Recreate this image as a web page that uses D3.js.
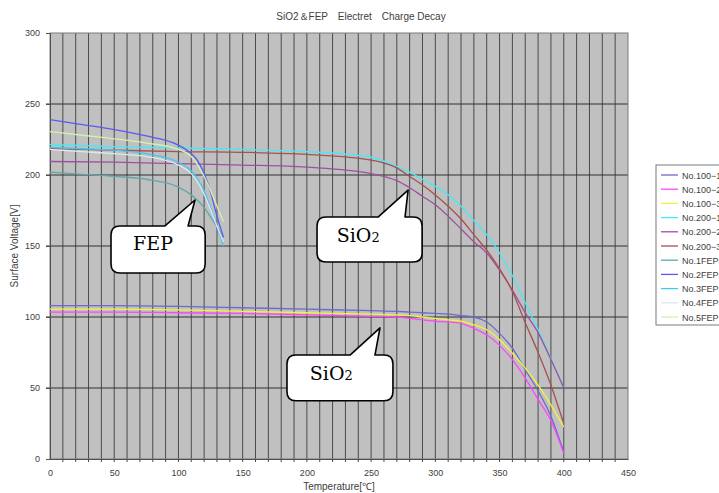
<!DOCTYPE html>
<html>
<head>
<meta charset="utf-8">
<style>
    body { margin: 0; background: #ffffff; }
    text { font-family: "Liberation Sans", Arial, sans-serif; fill: #404040; }
</style>
</head>
<body>
<script src="https://cdnjs.cloudflare.com/ajax/libs/d3/7.8.5/d3.min.js"></script>
<script type="text/javascript">
    // SiO2 samples: temperature points [°C]
    var sio2Temps = [0, 50, 100, 150, 200, 250, 270, 280, 290, 300, 310, 320, 330, 340, 350, 360, 370, 380, 390, 400];
    var no100_1 = [108, 108, 107.5, 106.5, 105.5, 104.5, 104, 103.5, 103, 102.5, 102, 101, 100, 96.5, 88.5, 78, 63, 48, 30, 5];
    var no100_2 = [103.5, 103.5, 103, 102.5, 101.5, 100.5, 100, 99, 98, 97, 96.5, 95.5, 92, 87.5, 80, 70, 57, 42, 27, 4];
    var no100_3 = [105.5, 105.5, 105, 104, 103, 102, 101.5, 101, 100, 99, 98, 97, 94.5, 91, 84, 74.5, 64, 52, 38, 22.5];
    var no200_1 = [221.5, 220, 219, 218, 216.5, 212.5, 206, 202, 197, 192, 186, 178, 168, 158, 145, 129, 110, 91, 71, 50];
    var no200_2 = [209.5, 209, 208, 207, 205.5, 201, 196, 191, 185, 179, 171, 162, 153, 145, 133, 119, 103, 89, 70, 50];
    var no200_3 = [218.5, 217.5, 216.5, 216, 214.5, 210.5, 205, 199, 193, 186, 178, 169, 158, 147, 134, 118, 96, 75, 52, 25];

    // FEP samples
    var fepTemps = [0, 25, 50, 75, 100, 110, 115, 120, 125, 130, 135];
    var no1FEP = [202, 200.5, 199, 197, 191.5, 186, 182, 177, 170.5, 163.5, 156.5];
    var no2FEP = [239, 235.5, 232, 227.5, 221, 215, 210, 201, 188, 171, 156];
    var no3FEP = [219.5, 218.5, 217.5, 215, 209, 203, 197, 189, 177, 164, 150];
    var no4FEP = [218, 216.5, 215, 213, 207, 201, 195, 186.5, 175.5, 164, 153];
    var no5FEP = [230.5, 228, 225.5, 222.5, 218, 213, 207, 199, 189, 178, 167];

    var seriesNames = ["No.100\u22121", "No.100\u22122", "No.100\u22123", "No.200\u22121", "No.200\u22122", "No.200\u22123",
        "No.1FEP", "No.2FEP", "No.3FEP", "No.4FEP", "No.5FEP"];
    var seriesColors = ["#6a6ad0", "#ff44ff", "#f2f23c", "#48e8f8", "#a04ea0", "#a85050",
        "#5fa8a8", "#5a5af0", "#40c8f0", "#dae8ee", "#d2f2b0"];
    var seriesValues = [no100_1, no100_2, no100_3, no200_1, no200_2, no200_3, no1FEP, no2FEP, no3FEP, no4FEP, no5FEP];
    var seriesTemps = [sio2Temps, sio2Temps, sio2Temps, sio2Temps, sio2Temps, sio2Temps,
        fepTemps, fepTemps, fepTemps, fepTemps, fepTemps];

    var xTicks = [0, 50, 100, 150, 200, 250, 300, 350, 400, 450];
    var yTicks = [0, 50, 100, 150, 200, 250, 300];

    // callouts: [label, left, right, top, bottom (°C / V), pointer base a, base b, tip T, tip V, text centre T]
    var calloutFEP = ["FEP", 47.5, 120.8, 164.1, 131, 89.5, 107.5, 112.9, 182.4, 80.2];
    var calloutSiO2Top = ["SiO2", 207.9, 289.7, 170.4, 138.7, 255.4, 276.4, 278.8, 189.4, 240];
    var calloutSiO2Low = ["SiO2", 184.5, 267, 73.2, 41, 233.6, 253, 256.9, 92.3, 219]; 

    var svgWidth = 719, svgHeight = 493;
    var svg = d3.select('body')
        .append('svg')
        .attr('width', svgWidth)
        .attr('height', svgHeight);

    var x = d3.scaleLinear().domain([0, 450]).range([50, 628]);
    var y = d3.scaleLinear().domain([0, 300]).range([459, 33]);

    // plot background
    svg.append('rect')
        .attr('x', x(0)).attr('y', y(300))
        .attr('width', x(450) - x(0)).attr('height', y(0) - y(300))
        .attr('fill', '#c0c0c0');

    // vertical grid every 10
    svg.append('g')
        .selectAll('line')
        .data(d3.range(10, 450, 10))
        .enter().append('line')
        .attr('x1', function (d) { return x(d); })
        .attr('x2', function (d) { return x(d); })
        .attr('y1', y(300)).attr('y2', y(0) + 3)
        .attr('stroke', '#4a4a4a')
        .attr('stroke-width', 1);

    // horizontal grid every 50
    svg.append('g')
        .selectAll('line')
        .data(d3.range(50, 300, 50))
        .enter().append('line')
        .attr('x1', x(0) - 4).attr('x2', x(450))
        .attr('y1', function (d) { return y(d); })
        .attr('y2', function (d) { return y(d); })
        .attr('stroke', '#303030')
        .attr('stroke-width', 1);

    // frame
    svg.append('rect')
        .attr('x', x(0)).attr('y', y(300))
        .attr('width', x(450) - x(0)).attr('height', y(0) - y(300))
        .attr('fill', 'none')
        .attr('stroke', '#7a7a7a');

    // axes
    var xAxis = svg.append('g')
        .attr('transform', 'translate(0,' + y(0) + ')')
        .call(d3.axisBottom(x).tickValues(xTicks).tickSize(0).tickPadding(11));
    xAxis.select('.domain').attr('stroke', '#505050');
    xAxis.selectAll('text').style('font-size', '9px').attr('fill', '#404040');

    var yAxis = svg.append('g')
        .attr('transform', 'translate(' + x(0) + ',0)')
        .call(d3.axisLeft(y).tickValues(yTicks).tickSize(4).tickPadding(6));
    yAxis.select('.domain').attr('stroke', '#505050');
    yAxis.selectAll('line').attr('stroke', '#505050');
    yAxis.selectAll('text').style('font-size', '9px').attr('fill', '#404040');

    // titles
    svg.append('text')
        .attr('x', 361).attr('y', 20)
        .attr('text-anchor', 'middle')
        .style('font-size', '10px')
        .text('SiO2\uFF06FEP\u3000Electret\u3000Charge Decay');

    svg.append('text')
        .attr('x', (x(0) + x(450)) / 2).attr('y', 490)
        .attr('text-anchor', 'middle')
        .style('font-size', '10px')
        .text('Temperature[\u2103]');

    svg.append('text')
        .attr('transform', 'translate(18,' + y(150) + ') rotate(-90)')
        .attr('text-anchor', 'middle')
        .style('font-size', '10px')
        .text('Surface Voltage[V]');

    // series lines
    var line = d3.line()
        .x(function (d) { return x(d[0]); })
        .y(function (d) { return y(d[1]); })
        .curve(d3.curveMonotoneX);

    var series = seriesNames.map(function (name, i) {
        return {
            name: name,
            color: seriesColors[i],
            points: seriesTemps[i].map(function (t, j) { return [t, seriesValues[i][j]]; })
        };
    });

    svg.append('g')
        .selectAll('path')
        .data(series)
        .enter().append('path')
        .attr('d', function (d) { return line(d.points); })
        .attr('fill', 'none')
        .attr('stroke', function (d) { return d.color; })
        .attr('stroke-width', 1.3);

    // legend
    var legend = svg.append('g');
    legend.append('rect')
        .attr('x', 656).attr('y', 165)
        .attr('width', 80).attr('height', 160)
        .attr('fill', '#ffffff')
        .attr('stroke', '#7a7a7a');
    var entry = legend.selectAll('g.entry')
        .data(series)
        .enter().append('g')
        .attr('class', 'entry')
        .attr('transform', function (d, i) { return 'translate(0,' + (175 + i * 14.2) + ')'; });
    entry.append('line')
        .attr('x1', 661).attr('x2', 678)
        .attr('stroke', function (d) { return d.color; })
        .attr('stroke-width', 1.3);
    entry.append('text')
        .attr('x', 682).attr('y', 3.5)
        .style('font-size', '9px')
        .text(function (d) { return d.name; });

    // speech-bubble callouts
    function bubble(c) {
        var l = x(c[1]), r = x(c[2]), t = y(c[3]), b = y(c[4]);
        var a = x(c[5]), bb = x(c[6]), tx = x(c[7]), ty = y(c[8]);
        var rad = 9;
        var p = d3.path();
        p.moveTo(l + rad, t);
        p.lineTo(a, t);
        p.lineTo(tx, ty);
        p.lineTo(bb, t);
        p.lineTo(r - rad, t);
        p.quadraticCurveTo(r, t, r, t + rad);
        p.lineTo(r, b - rad);
        p.quadraticCurveTo(r, b, r - rad, b);
        p.lineTo(l + rad, b);
        p.quadraticCurveTo(l, b, l, b - rad);
        p.lineTo(l, t + rad);
        p.quadraticCurveTo(l, t, l + rad, t);
        p.closePath();
        svg.append('path')
            .attr('d', p.toString())
            .attr('fill', '#ffffff')
            .attr('stroke', '#000000')
            .attr('stroke-width', 1.6)
            .attr('stroke-linejoin', 'round');

        var label = svg.append('text')
            .attr('x', x(c[9]))
            .attr('y', t + 24.5)
            .attr('text-anchor', 'middle')
            .style('font-family', '"DejaVu Serif", "Liberation Serif", serif')
            .style('font-size', '19px')
            .style('fill', '#000000');
        if (c[0] === 'FEP') {
            label.text('FEP');
        } else {
            label.append('tspan').text('SiO');
            label.append('tspan').style('font-size', '13px').text('2');
        }
    }

    bubble(calloutFEP);
    bubble(calloutSiO2Top);
    bubble(calloutSiO2Low);
</script>
</body>
</html>
